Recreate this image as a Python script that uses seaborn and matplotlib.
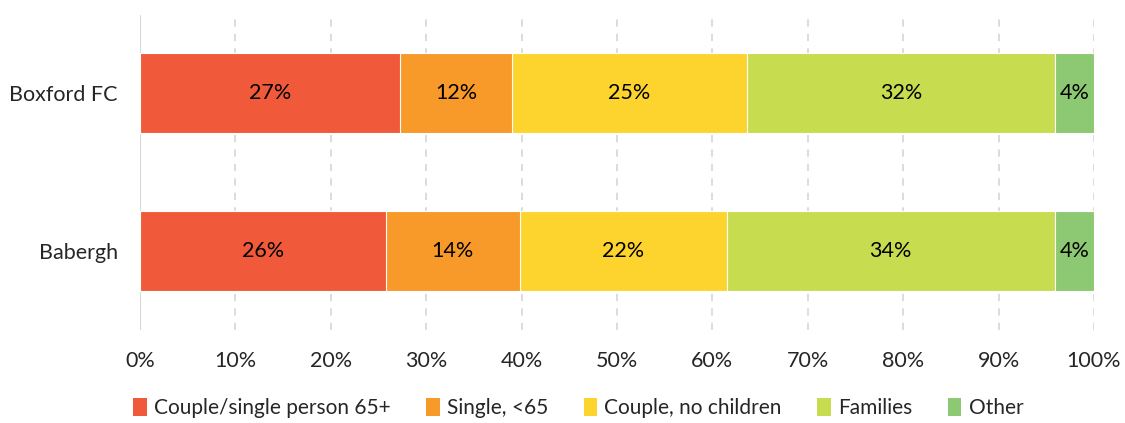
import matplotlib
matplotlib.use("Agg")
import matplotlib.pyplot as plt
import seaborn as sns
import pandas as pd
import numpy as np
from matplotlib.patches import Patch

areas = ["Boxford FC", "Babergh"]
groups = ["Couple/single person 65+", "Single, <65", "Couple, no children", "Families", "Other"]
boxford = [27.3, 11.7, 24.6, 32.3, 4.1]
babergh = [25.8, 14.0, 21.7, 34.4, 4.1]
colors = ["#F05A3A", "#F79A2A", "#FDD42E", "#C8DC50", "#8DC872"]

sns.set_theme(style="white")
plt.rcParams["font.family"] = ["Lato", "DejaVu Sans"]

fig = plt.figure(figsize=(11.25, 4.23), dpi=100)
ax = fig.add_axes([0.1244, 0.22, 0.848, 0.745])

vals = np.array([boxford, babergh])
cum = vals.cumsum(axis=1)

# draw cumulative totals from the last group backwards so they stack
for i in range(len(groups) - 1, -1, -1):
    df = pd.DataFrame({"area": areas, "total": cum[:, i]})
    sns.barplot(data=df, x="total", y="area", color=colors[i], orient="h", saturation=1,
                width=0.506, edgecolor="white", linewidth=0.8, ax=ax, zorder=2)

for r in range(len(areas)):
    for i in range(len(groups)):
        start = cum[r, i] - vals[r, i]
        ax.text(start + vals[r, i] / 2, r, f"{vals[r, i]:.0f}%", ha="center", va="center",
                fontsize=15.5, color="black", zorder=3)

ax.set_xlim(0, 100)
ax.set_ylim(1.5, -0.494)
ax.set_xticks(range(0, 101, 10))
ax.set_xticklabels([f"{t}%" for t in range(0, 101, 10)], fontsize=15.5)
ax.tick_params(axis="y", labelsize=15.5, length=0, pad=16)
ax.tick_params(axis="x", length=0, pad=15)
ax.set_xlabel("")
ax.set_ylabel("")
for s in ax.spines.values():
    s.set_visible(False)
ax.xaxis.grid(True, linestyle=(0, (4, 4)), color="#D9D9D9", linewidth=1.3, zorder=0)
ax.axvline(0, color="#D9D9D9", linewidth=1.5, zorder=1)
ax.set_axisbelow(True)

handles = [Patch(facecolor=c, edgecolor="none") for c in colors]
fig.legend(handles, groups, loc="center", bbox_to_anchor=(0.514, 0.035), ncol=5,
           frameon=False, fontsize=15, handlelength=0.65, handleheight=0.9,
           handletextpad=0.35, columnspacing=1.7)

fig.savefig("out.png", dpi=100)
